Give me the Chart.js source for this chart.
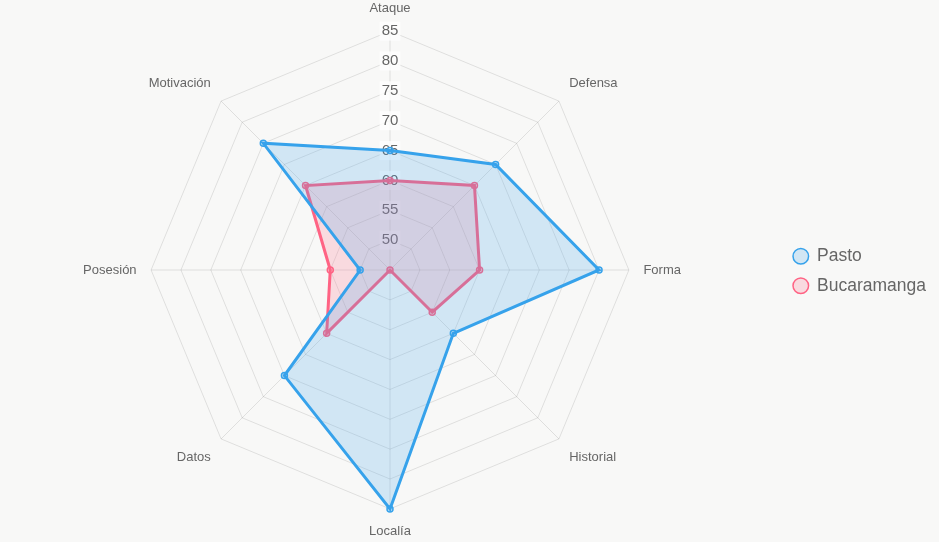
<!DOCTYPE html>
<html>
<head>
<meta charset="utf-8">
<script src="https://cdn.jsdelivr.net/npm/chart.js@4"></script>
<style>
  html, body { margin: 0; padding: 0; background: #f8f8f7; }
  #wrap { width: 939px; height: 542px; }
</style>
</head>
<body>
<div id="wrap"><canvas id="chart"></canvas></div>
<script>
const categories = ["Ataque", "Defensa", "Forma", "Historial", "Localía", "Datos", "Posesión", "Motivación"];
const pastoValues = [65, 70, 80, 60, 85, 70, 50, 75];
const bucaramangaValues = [60, 65, 60, 55, 45, 60, 55, 65];
const tickValues = [45, 50, 55, 60, 65, 70, 75, 80, 85];

const fontFamily = "Arial, 'Liberation Sans', sans-serif";

const ctx = document.getElementById("chart").getContext("2d");
new Chart(ctx, {
  type: "radar",
  data: {
    labels: categories,
    datasets: [
      {
        label: "Pasto",
        data: pastoValues,
        backgroundColor: "rgba(54, 162, 235, 0.2)",
        borderColor: "rgba(54, 162, 235, 1)",
        borderWidth: 3,
        pointRadius: 3,
        pointBorderWidth: 1.5,
        pointBackgroundColor: "rgba(54, 162, 235, 0.2)",
        pointBorderColor: "rgba(54, 162, 235, 1)",
      },
      {
        label: "Bucaramanga",
        data: bucaramangaValues,
        backgroundColor: "rgba(255, 99, 132, 0.2)",
        borderColor: "rgba(255, 99, 132, 1)",
        borderWidth: 3,
        pointRadius: 3,
        pointBorderWidth: 1.5,
        pointBackgroundColor: "rgba(255, 99, 132, 0.2)",
        pointBorderColor: "rgba(255, 99, 132, 1)",
      },
    ],
  },
  options: {
    responsive: true,
    maintainAspectRatio: false,
    animation: false,
    layout: { padding: { top: 2, bottom: 2, right: 3 } },
    plugins: {
      legend: {
        position: "right",
        labels: {
          usePointStyle: true,
          pointStyle: "circle",
          boxWidth: 15,
          boxHeight: 11,
          font: { size: 17.5, family: fontFamily },
          color: "#666",
          padding: 12,
        },
      },
      tooltip: { enabled: false },
    },
    scales: {
      r: {
        min: 45,
        max: 85,
        afterBuildTicks: (axis) => {
          axis.ticks = tickValues.map((v) => ({ value: v }));
        },
        ticks: {
          font: { size: 15, family: fontFamily },
          color: "#666",
          backdropColor: "rgba(255, 255, 255, 0.75)",
        },
        pointLabels: {
          font: { size: 13, family: fontFamily },
          color: "#666",
        },
        grid: { color: "rgba(0, 0, 0, 0.1)" },
        angleLines: { color: "rgba(0, 0, 0, 0.1)" },
      },
    },
  },
});
</script>
</body>
</html>
